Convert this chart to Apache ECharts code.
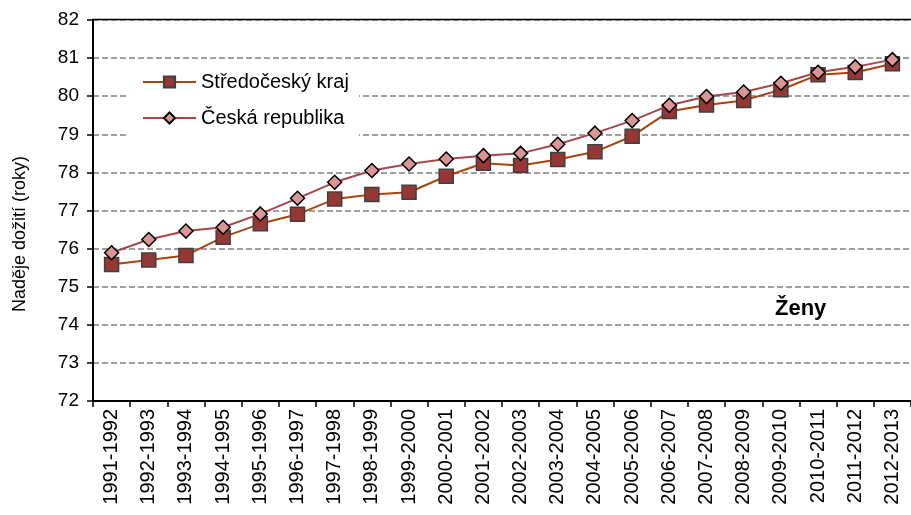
<!DOCTYPE html>
<html>
<head>
<meta charset="utf-8">
<script src="https://cdn.jsdelivr.net/npm/echarts@6/dist/echarts.min.js"></script>
<style>html,body{margin:0;padding:0;background:#fff}#c{width:911px;height:515px}</style>
</head>
<body>
<div id="c"></div>
<script>
const categories = ["1991-1992","1992-1993","1993-1994","1994-1995","1995-1996","1996-1997","1997-1998","1998-1999","1999-2000","2000-2001","2001-2002","2002-2003","2003-2004","2004-2005","2005-2006","2006-2007","2007-2008","2008-2009","2009-2010","2010-2011","2011-2012","2012-2013"];
const stredocesky = [75.58,75.70,75.82,76.30,76.65,76.90,77.30,77.42,77.48,77.90,78.24,78.18,78.34,78.54,78.95,79.60,79.77,79.89,80.17,80.56,80.62,80.85];
const ceska = [75.89,76.24,76.46,76.56,76.91,77.32,77.74,78.05,78.22,78.35,78.44,78.50,78.74,79.03,79.36,79.76,79.99,80.11,80.34,80.63,80.77,80.96];
const yTicks = {min: 72, max: 82, interval: 1};
const seriesNames = ["Středočeský kraj", "Česká republika"];
const yTitle = "Naděje dožití (roky)";
const note = "Ženy";

const FONT = "Liberation Sans, Arial, sans-serif";
const chart = echarts.init(document.getElementById('c'), null, {renderer: 'canvas'});
chart.setOption({
  animation: false,
  backgroundColor: '#fff',
  grid: {left: 93, top: 20, width: 828, height: 381, containLabel: false},
  legend: {
    left: 128, top: 63, orient: 'vertical',
    padding: [9, 10, 10, 14],
    backgroundColor: '#fff',
    itemWidth: 53, itemHeight: 14, itemGap: 16,
    textStyle: {fontFamily: FONT, fontSize: 20, color: '#000', lineHeight: 20},
    data: seriesNames
  },
  xAxis: {
    type: 'category', data: categories, boundaryGap: true,
    axisLine: {lineStyle: {color: '#000', width: 2}},
    axisTick: {show: true, length: 6, lineStyle: {color: '#000', width: 1.5}},
    axisLabel: {rotate: 90, fontFamily: FONT, fontSize: 20, color: '#000', margin: 8, interval: 0}
  },
  yAxis: {
    type: 'value', min: yTicks.min, max: yTicks.max, interval: yTicks.interval,
    axisLine: {show: true, lineStyle: {color: '#000', width: 2}},
    axisTick: {show: true, length: 6, lineStyle: {color: '#000', width: 1.5}},
    axisLabel: {fontFamily: FONT, fontSize: 19, color: '#000', margin: 14},
    splitLine: {show: true, lineStyle: {color: '#808080', width: 1.5, type: [6, 3]}}
  },
  graphic: [
    {type: 'line', shape: {x1: 92, y1: 19.5, x2: 911, y2: 19.5}, style: {stroke: '#000', lineWidth: 1.5}, z: 1},
    {type: 'text', x: 20, y: 234, rotation: Math.PI / 2,
     style: {text: yTitle, font: '18px ' + FONT, fill: '#000', textAlign: 'center', textVerticalAlign: 'middle'}, z: 10},
    {type: 'text', left: 775, top: 298, style: {text: note, font: 'bold 22px ' + FONT, fill: '#000'}, z: 10}
  ],
  series: [
    {
      name: seriesNames[0], type: 'line', data: stredocesky,
      symbol: 'rect', symbolSize: 14,
      lineStyle: {color: '#a8440e', width: 2},
      itemStyle: {color: '#953735', borderColor: '#3f3f3f', borderWidth: 1.5},
      z: 3
    },
    {
      name: seriesNames[1], type: 'line', data: ceska,
      symbol: 'diamond', symbolSize: 14,
      lineStyle: {color: '#a6464b', width: 2},
      itemStyle: {color: '#d99694', borderColor: '#000', borderWidth: 1.5},
      z: 4
    }
  ]
});
</script>
</body>
</html>
